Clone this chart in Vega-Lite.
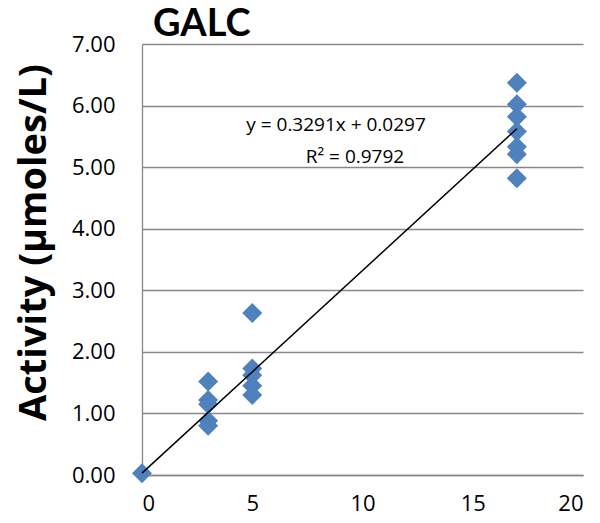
{
  "$schema": "https://vega.github.io/schema/vega-lite/v6.json",
  "width": 441,
  "height": 431,
  "autosize": {"type": "none"},
  "padding": {"left": 142, "top": 44, "right": 17, "bottom": 48},
  "background": "white",
  "title": {
    "text": "GALC",
    "anchor": "start",
    "frame": "group",
    "dx": 11,
    "offset": -11,
    "font": "Lato",
    "fontSize": 38,
    "fontWeight": "bold",
    "color": "black"
  },
  "config": {
    "view": {"stroke": null},
    "axis": {
      "labelFont": "Open Sans",
      "labelFontSize": 22,
      "labelColor": "black",
      "domainColor": "#888888",
      "gridColor": "#888888",
      "gridWidth": 1.3,
      "domainWidth": 1.3,
      "ticks": false
    }
  },
  "datasets": {
    "points": [
      {"x": 0, "y": 0.03},
      {"x": 3, "y": 1.52},
      {"x": 3, "y": 1.22},
      {"x": 3, "y": 1.15},
      {"x": 3, "y": 0.88},
      {"x": 3, "y": 0.80},
      {"x": 5, "y": 2.63},
      {"x": 5, "y": 1.73},
      {"x": 5, "y": 1.62},
      {"x": 5, "y": 1.45},
      {"x": 5, "y": 1.30},
      {"x": 17, "y": 6.37},
      {"x": 17, "y": 6.02},
      {"x": 17, "y": 5.82},
      {"x": 17, "y": 5.58},
      {"x": 17, "y": 5.33},
      {"x": 17, "y": 5.21},
      {"x": 17, "y": 4.82}
    ],
    "trend": [
      {"x": 0, "y": 0.0297},
      {"x": 17, "y": 5.6244}
    ],
    "labels": [
      {"x": 8.8, "y": 5.68, "text": "y = 0.3291x + 0.0297"},
      {"x": 9.66, "y": 5.16, "text": "R² = 0.9792"}
    ]
  },
  "layer": [
    {
      "data": {"name": "points"},
      "mark": {"type": "point", "shape": "diamond", "filled": true, "size": 400, "color": "#4F81BD", "opacity": 1},
      "encoding": {
        "x": {
          "field": "x", "type": "quantitative",
          "scale": {"domain": [0, 20], "nice": false},
          "axis": {"values": [0, 5, 10, 15, 20], "grid": false, "title": null, "labelPadding": 18}
        },
        "y": {
          "field": "y", "type": "quantitative",
          "scale": {"domain": [0, 7], "nice": false},
          "axis": {
            "values": [0, 1, 2, 3, 4, 5, 6, 7],
            "format": ".2f",
            "grid": true,
            "title": "Activity (µmoles/L)",
            "titleFont": "Open Sans",
            "titleFontSize": 38,
            "titleFontWeight": "bold",
            "titleColor": "black",
            "titleX": -97,
            "titleY": 198,
            "titleAlign": "center",
            "titleBaseline": "alphabetic",
            "titleAngle": 270,
            "labelPadding": 27
          }
        }
      }
    },
    {
      "data": {"name": "trend"},
      "mark": {"type": "line", "color": "black", "strokeWidth": 1.5},
      "encoding": {
        "x": {"field": "x", "type": "quantitative"},
        "y": {"field": "y", "type": "quantitative"}
      }
    },
    {
      "data": {"name": "labels"},
      "mark": {"type": "text", "font": "Open Sans", "fontSize": 19, "color": "black", "align": "center", "baseline": "middle"},
      "encoding": {
        "x": {"field": "x", "type": "quantitative"},
        "y": {"field": "y", "type": "quantitative"},
        "text": {"field": "text"}
      }
    }
  ]
}
